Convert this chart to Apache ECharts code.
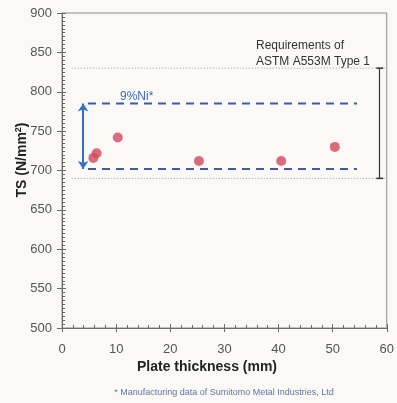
<!DOCTYPE html>
<html>
<head>
<meta charset="utf-8">
<script src="https://cdn.jsdelivr.net/npm/echarts@6/dist/echarts.min.js"></script>
<style>
  html, body { margin: 0; padding: 0; background: #faf9f5; }
  #main { width: 397px; height: 403px; }
</style>
</head>
<body>
<div id="main"></div>
<script>
  // plate thickness (mm) and tensile strength (N/mm2) of the samples
  const thickness = [5.8, 6.4, 10.3, 25.3, 40.5, 50.4]
  const tensile = [716, 722, 742, 712, 712, 730]

  // 9%Ni band (dashed) and ASTM A553M Type 1 band (dotted)
  const niBand = [702, 785]
  const niSpan = [4.8, 54.5]
  const niArrowX = 3.9
  const astmBand = [690, 830]
  const astmSpan = [1.8, 60]
  const astmBarX = 58.7

  const xRange = [0, 60, 10]
  const yRange = [500, 900, 50]

  const chart = echarts.init(document.getElementById('main'))

  const axisColor = '#6b6b6b'
  const labelStyle = { color: '#555', fontSize: 13, fontFamily: 'Liberation Sans' }

  function hLine(y, span) {
    return [[span[0], y], [span[1], y]]
  }

  chart.setOption({
    backgroundColor: '#faf9f5',
    animation: false,
    grid: {
      left: 62, right: 7, top: 13, bottom: 75,
      show: true, borderColor: '#8a8a8a', borderWidth: 1
    },
    xAxis: [{
      type: 'value',
      min: xRange[0], max: xRange[1], interval: xRange[2],
      axisLine: { onZero: false, lineStyle: { color: axisColor } },
      axisTick: { inside: true, length: 4, lineStyle: { color: axisColor } },
      minorTick: { show: true, splitNumber: 5, length: 3, lineStyle: { color: axisColor } },
      axisLabel: Object.assign({ margin: 15 }, labelStyle),
      splitLine: { show: false }
    }, {
      // outer major ticks
      type: 'value', position: 'bottom',
      min: xRange[0], max: xRange[1], interval: xRange[2],
      axisLine: { show: false },
      axisTick: { length: 4, lineStyle: { color: axisColor } },
      axisLabel: { show: false },
      splitLine: { show: false }
    }],
    yAxis: [{
      type: 'value',
      min: yRange[0], max: yRange[1], interval: yRange[2],
      axisLine: { show: true, lineStyle: { color: axisColor } },
      axisTick: { show: true, inside: true, length: 4, lineStyle: { color: axisColor } },
      minorTick: { show: true, splitNumber: 10, length: 3, lineStyle: { color: axisColor } },
      axisLabel: Object.assign({ margin: 10 }, labelStyle),
      splitLine: { show: false }
    }, {
      type: 'value', position: 'left',
      min: yRange[0], max: yRange[1], interval: yRange[2],
      axisLine: { show: false },
      axisTick: { show: true, length: 5, lineStyle: { color: axisColor } },
      axisLabel: { show: false },
      splitLine: { show: false }
    }],
    graphic: [{
      type: 'text', left: 256, top: 38,
      style: { text: 'Requirements of\nASTM A553M Type 1', fill: '#333', font: '12px Liberation Sans', lineHeight: 16 }
    }, {
      type: 'text', x: 22, y: 160, rotation: Math.PI / 2,
      style: {
        text: '{b|TS (N/mm}{s|2}{b|)}',
        rich: {
          b: { font: 'bold 14px Liberation Sans', fill: '#222' },
          s: { font: 'bold 9px Liberation Sans', fill: '#222', verticalAlign: 'top', padding: [0, 0, 6, 0] }
        },
        align: 'center', verticalAlign: 'middle'
      }
    }, {
      type: 'text', x: 207, y: 367,
      style: { text: 'Plate thickness (mm)', font: 'bold 14px Liberation Sans', fill: '#222', align: 'center', verticalAlign: 'middle' }
    }, {
      type: 'text', x: 224, y: 393,
      style: { text: '* Manufacturing data of Sumitomo Metal Industries, Ltd', font: '9px Liberation Sans', fill: '#5f77a3', align: 'center', verticalAlign: 'middle' }
    }],
    series: [{
      type: 'line', silent: true, symbol: 'none',
      data: hLine(astmBand[1], astmSpan),
      lineStyle: { color: '#9a9a9a', width: 1, type: [1, 2] }
    }, {
      type: 'line', silent: true, symbol: 'none',
      data: hLine(astmBand[0], astmSpan),
      lineStyle: { color: '#9a9a9a', width: 1, type: [1, 2] }
    }, {
      type: 'line', silent: true, symbol: 'none',
      data: hLine(niBand[1], niSpan),
      lineStyle: { color: '#3f5c9e', width: 2, type: [8, 6] }
    }, {
      type: 'line', silent: true, symbol: 'none',
      data: hLine(niBand[0], niSpan),
      lineStyle: { color: '#3f5c9e', width: 2, type: [8, 6] },
      markLine: {
        silent: true,
        animation: false,
        label: { show: false },
        data: [
          [{ coord: [niArrowX, niBand[1]], symbol: 'arrow', symbolSize: 8, lineStyle: { color: '#3470c4', width: 2, type: 'solid' } },
           { coord: [niArrowX, niBand[0]], symbol: 'arrow', symbolSize: 8 }],
          [{ coord: [astmBarX, astmBand[1]], symbol: 'rect', symbolSize: [7, 1.5], lineStyle: { color: '#333', width: 1.2, type: 'solid' } },
           { coord: [astmBarX, astmBand[0]], symbol: 'rect', symbolSize: [7, 1.5] }]
        ]
      },
      markPoint: {
        silent: true,
        symbol: 'rect', symbolSize: 1,
        itemStyle: { color: 'transparent' },
        label: { show: true, formatter: '9%Ni*', color: '#3a6bbf', fontSize: 12, fontFamily: 'Liberation Sans', position: 'inside' },
        data: [{ coord: [13.8, 794] }]
      }
    }, {
      type: 'scatter',
      data: thickness.map((t, i) => [t, tensile[i]]),
      symbolSize: 10,
      itemStyle: { color: '#d2475c' }
    }]
  })
</script>
</body>
</html>
